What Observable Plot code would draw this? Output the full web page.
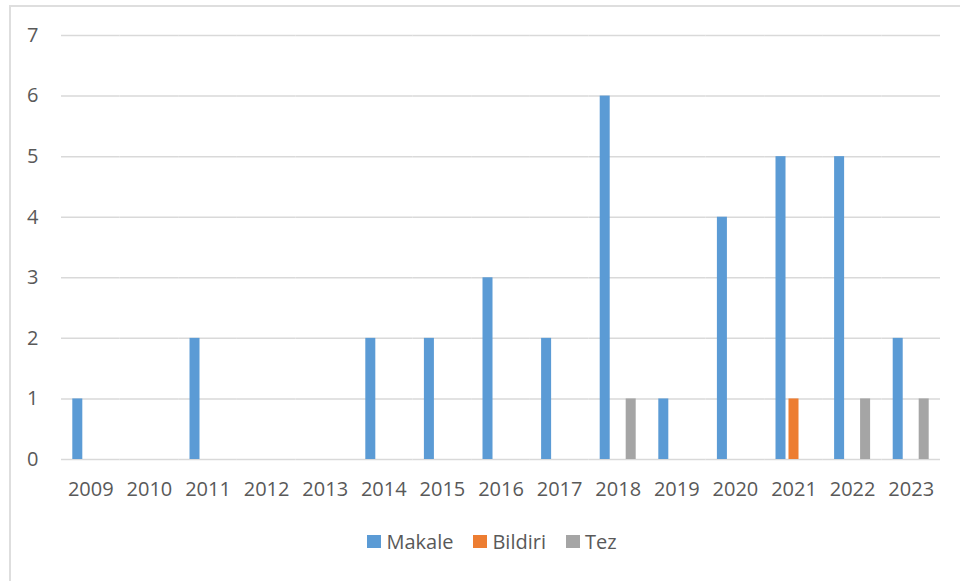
<!DOCTYPE html>
<html>
<head>
<meta charset="utf-8">
<script src="https://cdn.jsdelivr.net/npm/d3@7"></script>
<script src="https://cdn.jsdelivr.net/npm/@observablehq/plot@0.6"></script>
<style>
  html, body { margin: 0; padding: 0; background: #fff; }
  #wrap { position: relative; width: 960px; height: 581px; overflow: hidden; font-family: "Open Sans", sans-serif; }
  #frame { position: absolute; left: 9px; top: 5px; width: 1000px; height: 700px; border-left: 2px solid #dedede; border-top: 2px solid #dedede; box-sizing: border-box; }
  #chart { position: absolute; left: 0; top: 0; }
  #legend { position: absolute; left: 0; top: 528px; width: 960px; display: flex; justify-content: center; align-items: center; font-size: 20px; color: #595959; padding-left: 24px; box-sizing: border-box; }
  .item { display: flex; align-items: center; margin: 0 10px; }
  .sw { width: 14px; height: 13px; margin-right: 5px; }
</style>
</head>
<body>
<div id="wrap">
  <div id="frame"></div>
  <div id="chart"></div>
  <div id="legend"></div>
</div>
<script>
const years = ["2009","2010","2011","2012","2013","2014","2015","2016","2017","2018","2019","2020","2021","2022","2023"];
const series = ["Makale", "Bildiri", "Tez"];
const colors = ["#5B9BD5", "#ED7D31", "#A5A5A5"];
const makale  = [1, 0, 2, 0, 0, 2, 2, 3, 2, 6, 1, 4, 5, 5, 2];
const bildiri = [0, 0, 0, 0, 0, 0, 0, 0, 0, 0, 0, 0, 1, 0, 0];
const tez     = [0, 0, 0, 0, 0, 0, 0, 0, 0, 1, 0, 0, 0, 1, 1];
const yTicks = [0, 1, 2, 3, 4, 5, 6, 7];

const values = [makale, bildiri, tez];
const data = years.flatMap((y, i) => series.map((s, k) => ({year: y, series: s, value: values[k][i]})));

const chart = Plot.plot({
  width: 960,
  height: 520,
  marginLeft: 61,
  marginRight: 20,
  marginTop: 35,
  marginBottom: 61,
  style: {fontFamily: "Open Sans, sans-serif", fontSize: "20px", color: "#595959", background: "transparent"},
  fx: {domain: years, round: false, paddingInner: 0, paddingOuter: 0, label: null, axis: "bottom", tickSize: 0, tickPadding: 22},
  x: {domain: series, axis: null, round: false, paddingInner: 0.23, paddingOuter: 0.87},
  y: {domain: [0, 7], ticks: yTicks, tickFormat: "d", tickSize: 0, tickPadding: 23, label: null},
  color: {domain: series, range: colors},
  marks: [
    Plot.ruleY(yTicks, {stroke: "#d9d9d9", strokeWidth: 1.5}),
    Plot.barY(data, {fx: "year", x: "series", y: "value", fill: "series"})
  ]
});
document.getElementById("chart").appendChild(chart);

const legend = document.getElementById("legend");
series.forEach((s, k) => {
  const item = document.createElement("div");
  item.className = "item";
  const sw = document.createElement("div");
  sw.className = "sw";
  sw.style.background = colors[k];
  const t = document.createElement("span");
  t.textContent = s;
  item.appendChild(sw);
  item.appendChild(t);
  legend.appendChild(item);
});
</script>
</body>
</html>
